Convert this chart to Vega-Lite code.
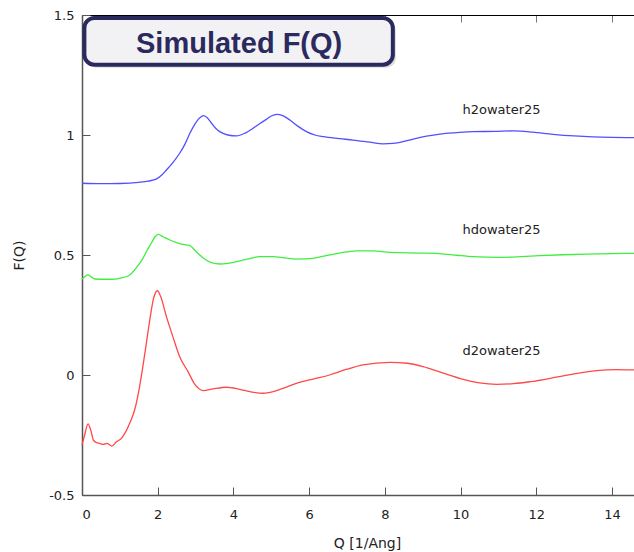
{
  "$schema": "https://vega.github.io/schema/vega-lite/v6.json",
  "width": 552,
  "height": 480,
  "autosize": {"type": "none"},
  "padding": {"left": 82, "top": 15, "right": 0, "bottom": 57},
  "background": "white",
  "config": {
    "view": {"stroke": null},
    "axis": {"grid": false}
  },
  "datasets": {
    "curves": [
      {"series": "h2owater25", "Q": 0, "F": 0.799},
      {"series": "h2owater25", "Q": 0.5, "F": 0.797},
      {"series": "h2owater25", "Q": 1.0, "F": 0.798},
      {"series": "h2owater25", "Q": 1.5, "F": 0.803},
      {"series": "h2owater25", "Q": 1.75, "F": 0.808},
      {"series": "h2owater25", "Q": 1.97, "F": 0.817},
      {"series": "h2owater25", "Q": 2.1, "F": 0.832},
      {"series": "h2owater25", "Q": 2.23, "F": 0.854},
      {"series": "h2owater25", "Q": 2.4, "F": 0.885},
      {"series": "h2owater25", "Q": 2.58, "F": 0.924},
      {"series": "h2owater25", "Q": 2.72, "F": 0.962},
      {"series": "h2owater25", "Q": 2.85, "F": 1.007},
      {"series": "h2owater25", "Q": 2.97, "F": 1.042},
      {"series": "h2owater25", "Q": 3.07, "F": 1.065},
      {"series": "h2owater25", "Q": 3.22, "F": 1.081},
      {"series": "h2owater25", "Q": 3.32, "F": 1.07},
      {"series": "h2owater25", "Q": 3.42, "F": 1.049},
      {"series": "h2owater25", "Q": 3.53, "F": 1.028},
      {"series": "h2owater25", "Q": 3.64, "F": 1.014},
      {"series": "h2owater25", "Q": 3.85, "F": 1.0},
      {"series": "h2owater25", "Q": 4.08, "F": 0.996},
      {"series": "h2owater25", "Q": 4.3, "F": 1.007},
      {"series": "h2owater25", "Q": 4.52, "F": 1.028},
      {"series": "h2owater25", "Q": 4.7, "F": 1.048},
      {"series": "h2owater25", "Q": 4.87, "F": 1.065},
      {"series": "h2owater25", "Q": 5.0, "F": 1.079},
      {"series": "h2owater25", "Q": 5.14, "F": 1.086},
      {"series": "h2owater25", "Q": 5.3, "F": 1.081},
      {"series": "h2owater25", "Q": 5.49, "F": 1.0625},
      {"series": "h2owater25", "Q": 5.7, "F": 1.037},
      {"series": "h2owater25", "Q": 5.93, "F": 1.014},
      {"series": "h2owater25", "Q": 6.15, "F": 1.0},
      {"series": "h2owater25", "Q": 6.37, "F": 0.993},
      {"series": "h2owater25", "Q": 6.8, "F": 0.985},
      {"series": "h2owater25", "Q": 7.16, "F": 0.979},
      {"series": "h2owater25", "Q": 7.6, "F": 0.97},
      {"series": "h2owater25", "Q": 7.95, "F": 0.963},
      {"series": "h2owater25", "Q": 8.22, "F": 0.965},
      {"series": "h2owater25", "Q": 8.5, "F": 0.973},
      {"series": "h2owater25", "Q": 8.75, "F": 0.983},
      {"series": "h2owater25", "Q": 9.1, "F": 0.995},
      {"series": "h2owater25", "Q": 9.45, "F": 1.004},
      {"series": "h2owater25", "Q": 9.9, "F": 1.01},
      {"series": "h2owater25", "Q": 10.33, "F": 1.014},
      {"series": "h2owater25", "Q": 10.9, "F": 1.015},
      {"series": "h2owater25", "Q": 11.39, "F": 1.017},
      {"series": "h2owater25", "Q": 11.9, "F": 1.012},
      {"series": "h2owater25", "Q": 12.44, "F": 1.003},
      {"series": "h2owater25", "Q": 13.0, "F": 0.996},
      {"series": "h2owater25", "Q": 13.5, "F": 0.992},
      {"series": "h2owater25", "Q": 14.0, "F": 0.99},
      {"series": "h2owater25", "Q": 14.58, "F": 0.989},

      {"series": "hdowater25", "Q": 0, "F": 0.4},
      {"series": "hdowater25", "Q": 0.08, "F": 0.41},
      {"series": "hdowater25", "Q": 0.16, "F": 0.417},
      {"series": "hdowater25", "Q": 0.25, "F": 0.408},
      {"series": "hdowater25", "Q": 0.34, "F": 0.4},
      {"series": "hdowater25", "Q": 0.55, "F": 0.399},
      {"series": "hdowater25", "Q": 0.78, "F": 0.399},
      {"series": "hdowater25", "Q": 1.0, "F": 0.403},
      {"series": "hdowater25", "Q": 1.26, "F": 0.417},
      {"series": "hdowater25", "Q": 1.45, "F": 0.45},
      {"series": "hdowater25", "Q": 1.61, "F": 0.486},
      {"series": "hdowater25", "Q": 1.72, "F": 0.52},
      {"series": "hdowater25", "Q": 1.83, "F": 0.549},
      {"series": "hdowater25", "Q": 1.93, "F": 0.576},
      {"series": "hdowater25", "Q": 2.01, "F": 0.586},
      {"series": "hdowater25", "Q": 2.15, "F": 0.575},
      {"series": "hdowater25", "Q": 2.32, "F": 0.5625},
      {"series": "hdowater25", "Q": 2.5, "F": 0.552},
      {"series": "hdowater25", "Q": 2.67, "F": 0.544},
      {"series": "hdowater25", "Q": 2.85, "F": 0.539},
      {"series": "hdowater25", "Q": 2.98, "F": 0.52},
      {"series": "hdowater25", "Q": 3.11, "F": 0.5},
      {"series": "hdowater25", "Q": 3.25, "F": 0.482},
      {"series": "hdowater25", "Q": 3.42, "F": 0.468},
      {"series": "hdowater25", "Q": 3.64, "F": 0.4625},
      {"series": "hdowater25", "Q": 3.85, "F": 0.465},
      {"series": "hdowater25", "Q": 4.08, "F": 0.472},
      {"series": "hdowater25", "Q": 4.4, "F": 0.484},
      {"series": "hdowater25", "Q": 4.69, "F": 0.493},
      {"series": "hdowater25", "Q": 5.05, "F": 0.493},
      {"series": "hdowater25", "Q": 5.35, "F": 0.488},
      {"series": "hdowater25", "Q": 5.66, "F": 0.483},
      {"series": "hdowater25", "Q": 6.1, "F": 0.486},
      {"series": "hdowater25", "Q": 6.35, "F": 0.494},
      {"series": "hdowater25", "Q": 6.63, "F": 0.503},
      {"series": "hdowater25", "Q": 7.0, "F": 0.513},
      {"series": "hdowater25", "Q": 7.25, "F": 0.517},
      {"series": "hdowater25", "Q": 7.69, "F": 0.517},
      {"series": "hdowater25", "Q": 8.13, "F": 0.511},
      {"series": "hdowater25", "Q": 8.39, "F": 0.51},
      {"series": "hdowater25", "Q": 8.9, "F": 0.508},
      {"series": "hdowater25", "Q": 9.45, "F": 0.506},
      {"series": "hdowater25", "Q": 9.9, "F": 0.499},
      {"series": "hdowater25", "Q": 10.33, "F": 0.493},
      {"series": "hdowater25", "Q": 11.04, "F": 0.49},
      {"series": "hdowater25", "Q": 11.6, "F": 0.493},
      {"series": "hdowater25", "Q": 12.09, "F": 0.497},
      {"series": "hdowater25", "Q": 12.7, "F": 0.501},
      {"series": "hdowater25", "Q": 13.33, "F": 0.504},
      {"series": "hdowater25", "Q": 14.0, "F": 0.506},
      {"series": "hdowater25", "Q": 14.58, "F": 0.507},

      {"series": "d2owater25", "Q": 0, "F": -0.292},
      {"series": "d2owater25", "Q": 0.07, "F": -0.25},
      {"series": "d2owater25", "Q": 0.16, "F": -0.204},
      {"series": "d2owater25", "Q": 0.23, "F": -0.229},
      {"series": "d2owater25", "Q": 0.31, "F": -0.274},
      {"series": "d2owater25", "Q": 0.39, "F": -0.282},
      {"series": "d2owater25", "Q": 0.47, "F": -0.285},
      {"series": "d2owater25", "Q": 0.56, "F": -0.289},
      {"series": "d2owater25", "Q": 0.66, "F": -0.285},
      {"series": "d2owater25", "Q": 0.79, "F": -0.296},
      {"series": "d2owater25", "Q": 0.91, "F": -0.278},
      {"series": "d2owater25", "Q": 1.04, "F": -0.264},
      {"series": "d2owater25", "Q": 1.15, "F": -0.238},
      {"series": "d2owater25", "Q": 1.26, "F": -0.201},
      {"series": "d2owater25", "Q": 1.39, "F": -0.146},
      {"series": "d2owater25", "Q": 1.52, "F": -0.049},
      {"series": "d2owater25", "Q": 1.66, "F": 0.09},
      {"series": "d2owater25", "Q": 1.79, "F": 0.229},
      {"series": "d2owater25", "Q": 1.89, "F": 0.319},
      {"series": "d2owater25", "Q": 1.99, "F": 0.351},
      {"series": "d2owater25", "Q": 2.08, "F": 0.326},
      {"series": "d2owater25", "Q": 2.23, "F": 0.243},
      {"series": "d2owater25", "Q": 2.4, "F": 0.16},
      {"series": "d2owater25", "Q": 2.58, "F": 0.076},
      {"series": "d2owater25", "Q": 2.8, "F": 0.014},
      {"series": "d2owater25", "Q": 2.98, "F": -0.039},
      {"series": "d2owater25", "Q": 3.1, "F": -0.058},
      {"series": "d2owater25", "Q": 3.2, "F": -0.065},
      {"series": "d2owater25", "Q": 3.46, "F": -0.058},
      {"series": "d2owater25", "Q": 3.81, "F": -0.051},
      {"series": "d2owater25", "Q": 4.17, "F": -0.06},
      {"series": "d2owater25", "Q": 4.43, "F": -0.069},
      {"series": "d2owater25", "Q": 4.78, "F": -0.076},
      {"series": "d2owater25", "Q": 5.2, "F": -0.062},
      {"series": "d2owater25", "Q": 5.66, "F": -0.035},
      {"series": "d2owater25", "Q": 6.1, "F": -0.017},
      {"series": "d2owater25", "Q": 6.54, "F": 0.0},
      {"series": "d2owater25", "Q": 7.0, "F": 0.024},
      {"series": "d2owater25", "Q": 7.42, "F": 0.042},
      {"series": "d2owater25", "Q": 8.13, "F": 0.053},
      {"series": "d2owater25", "Q": 8.6, "F": 0.049},
      {"series": "d2owater25", "Q": 9.01, "F": 0.035},
      {"series": "d2owater25", "Q": 9.5, "F": 0.01},
      {"series": "d2owater25", "Q": 10.07, "F": -0.018},
      {"series": "d2owater25", "Q": 10.5, "F": -0.033},
      {"series": "d2owater25", "Q": 10.95, "F": -0.039},
      {"series": "d2owater25", "Q": 11.4, "F": -0.036},
      {"series": "d2owater25", "Q": 11.83, "F": -0.028},
      {"series": "d2owater25", "Q": 12.71, "F": -0.004},
      {"series": "d2owater25", "Q": 13.59, "F": 0.018},
      {"series": "d2owater25", "Q": 14.1, "F": 0.022},
      {"series": "d2owater25", "Q": 14.58, "F": 0.021}
    ],
    "labels": [
      {"label": "h2owater25", "Q": 11.08, "F": 1.1035},
      {"label": "hdowater25", "Q": 11.08, "F": 0.6027},
      {"label": "d2owater25", "Q": 11.08, "F": 0.099}
    ],
    "box": [
      {"title": "Simulated F(Q)"}
    ]
  },
  "resolve": {"axis": {"x": "independent", "y": "independent"}},
  "layer": [
    {
      "data": {"name": "curves"},
      "mark": {"type": "line", "strokeWidth": 1.3, "interpolate": "monotone"},
      "encoding": {
        "x": {
          "field": "Q", "type": "quantitative",
          "scale": {"domain": [0, 14.58], "nice": false, "zero": false},
          "axis": {
            "orient": "bottom",
            "values": [0, 2, 4, 6, 8, 10, 12, 14],
            "format": "d",
            "title": "Q [1/Ang]",
            "titleX": 285,
            "tickSize": -8, "tickColor": "#555", "tickWidth": 1,
            "domainColor": "#555", "domainWidth": 1.5,
            "labelPadding": 21,
            "labelFont": "DejaVu Sans", "labelFontSize": 13, "labelColor": "#222",
            "titleFont": "DejaVu Sans", "titleFontSize": 14, "titleFontWeight": "normal", "titleColor": "#222",
            "titlePadding": 15
          }
        },
        "y": {
          "field": "F", "type": "quantitative",
          "scale": {"domain": [-0.5, 1.5], "nice": false, "zero": false},
          "axis": {
            "orient": "left",
            "values": [-0.5, 0, 0.5, 1, 1.5],
            "labelExpr": "toString(datum.value)",
            "title": "F(Q)",
            "tickSize": -8, "tickColor": "#555", "tickWidth": 1,
            "domainColor": "#555", "domainWidth": 1.5,
            "labelPadding": 16,
            "labelFont": "DejaVu Sans", "labelFontSize": 13, "labelColor": "#222",
            "titleFont": "DejaVu Sans", "titleFontSize": 14, "titleFontWeight": "normal", "titleColor": "#222",
            "titlePadding": 22
          }
        },
        "color": {
          "field": "series", "type": "nominal",
          "scale": {"domain": ["h2owater25", "hdowater25", "d2owater25"], "range": ["#5050ff", "#40ee40", "#ff4848"]},
          "legend": null
        }
      }
    },
    {
      "data": {"name": "labels"},
      "mark": {"type": "text", "font": "DejaVu Sans", "fontSize": 13, "color": "#222", "align": "center", "baseline": "middle"},
      "encoding": {
        "x": {"field": "Q", "type": "quantitative", "scale": {"domain": [0, 14.58], "nice": false, "zero": false}, "axis": null},
        "y": {"field": "F", "type": "quantitative", "scale": {"domain": [-0.5, 1.5], "nice": false, "zero": false}, "axis": null},
        "text": {"field": "label"}
      }
    },
    {
      "data": {"name": "box"},
      "mark": {"type": "rect", "fill": "#888", "opacity": 0.3, "cornerRadius": 10},
      "encoding": {
        "x": {"datum": 0.14, "type": "quantitative", "scale": {"domain": [0, 14.58], "nice": false, "zero": false},
          "axis": {"orient": "top", "values": [0, 2, 4, 6, 8, 10, 12, 14], "labels": false, "title": null,
            "tickSize": -7, "tickColor": "#777", "tickWidth": 1, "domainColor": "#000", "domainWidth": 1}},
        "x2": {"datum": 8.29},
        "y": {"datum": 1.28, "type": "quantitative", "scale": {"domain": [-0.5, 1.5], "nice": false, "zero": false}, "axis": null},
        "y2": {"datum": 1.475}
      }
    },
    {
      "data": {"name": "box"},
      "mark": {"type": "rect", "fill": "#f2f2f4", "stroke": "#2b2a5e", "strokeWidth": 4, "cornerRadius": 10},
      "encoding": {
        "x": {"datum": 0.063, "type": "quantitative", "scale": {"domain": [0, 14.58], "nice": false, "zero": false}, "axis": null},
        "x2": {"datum": 8.21},
        "y": {"datum": 1.293, "type": "quantitative", "scale": {"domain": [-0.5, 1.5], "nice": false, "zero": false}, "axis": null},
        "y2": {"datum": 1.4875}
      }
    },
    {
      "data": {"name": "box"},
      "mark": {"type": "text", "font": "Liberation Sans", "fontWeight": "bold", "fontSize": 29, "color": "#2b2a5e", "align": "center", "baseline": "alphabetic"},
      "encoding": {
        "x": {"datum": 4.15, "type": "quantitative", "scale": {"domain": [0, 14.58], "nice": false, "zero": false}, "axis": null},
        "y": {"datum": 1.343, "type": "quantitative", "scale": {"domain": [-0.5, 1.5], "nice": false, "zero": false}, "axis": null},
        "text": {"field": "title"}
      }
    }
  ]
}
